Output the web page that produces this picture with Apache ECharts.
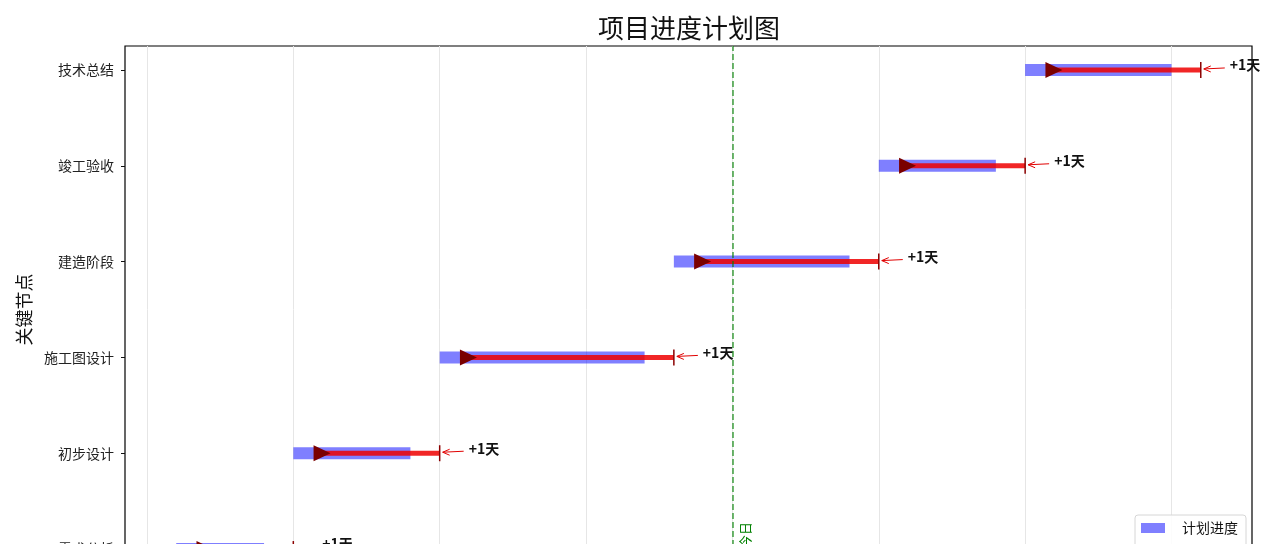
<!DOCTYPE html>
<html><head><meta charset="utf-8">
<script src="https://cdn.jsdelivr.net/npm/echarts@6/dist/echarts.min.js"></script>
<style>html,body{margin:0;padding:0;overflow:hidden;background:#fff}#c{width:1280px;height:640px}</style>
</head><body><div id="c"></div>
<script>
// Key milestones (bottom to top)
const tasks = ['需求分析', '初步设计', '施工图设计', '建造阶段', '竣工验收', '技术总结'];
// Days from project start
const planStart = [1, 5, 10, 18, 25, 30];
const planEnd = [4, 9, 17, 24, 29, 35];
const actualStart = [2, 6, 11, 19, 26, 31];
const actualEnd = [5, 10, 18, 25, 30, 36];
const todayDay = 20;
const xTickDays = [0, 5, 10, 15, 20, 25, 30, 35];
const xTickLabels = ['01-01', '01-06', '01-11', '01-16', '01-21', '01-26', '01-31', '02-05'];
const yTickPos = [0, 1, 2, 3, 4, 5];

const FONT = '"Noto Sans CJK SC", "Noto Sans", sans-serif';
const chart = echarts.init(document.getElementById('c'), null, { renderer: 'canvas' });

const planData = tasks.map((t, i) => [planStart[i], planEnd[i], i]);
const actualData = tasks.map((t, i) => [actualStart[i], actualEnd[i], i]);
const noteData = tasks.map((t, i) => [actualEnd[i], i, actualEnd[i] - planEnd[i]]);

chart.setOption({
  animation: false,
  textStyle: { fontFamily: FONT },
  title: {
    text: '项目进度计划图', left: 684, top: 10, textAlign: 'center',
    textStyle: { fontFamily: FONT, fontSize: 26, fontWeight: 'normal', color: '#111' }
  },
  grid: { left: 125, right: 28, top: 46, bottom: 67, show: true, borderColor: '#000', borderWidth: 1.2, backgroundColor: 'transparent' },
  legend: {
    right: 34, top: 515, orient: 'vertical', itemWidth: 24, itemHeight: 10, itemGap: 9,
    padding: [6, 8, 6, 6], backgroundColor: 'rgba(255,255,255,0.85)', borderColor: '#d6d6d6', borderWidth: 1, borderRadius: 3,
    textStyle: { fontFamily: FONT, fontSize: 14, color: '#111', padding: [0, 0, 0, 12] },
    data: [
      { name: '计划进度', icon: 'rect' },
      { name: '实际进度', icon: 'path://M0,4 L24,4 L24,6 L0,6 Z' }
    ]
  },
  xAxis: {
    type: 'value', min: -0.75, max: 37.75,
    axisLine: { show: false, onZero: false },
    axisTick: { show: true, length: 4, customValues: xTickDays, lineStyle: { color: '#111' } },
    axisLabel: { customValues: xTickDays, formatter: v => xTickLabels[xTickDays.indexOf(v)] || '', color: '#222', fontSize: 12, fontFamily: FONT },
    splitLine: { show: true, lineStyle: { color: '#e6e6e6', width: 1 } }
  },
  yAxis: {
    type: 'value', min: -0.25, max: 5.25,
    name: '关键节点', nameLocation: 'middle', nameGap: 88, nameRotate: 90,
    nameTextStyle: { fontFamily: FONT, fontSize: 18, color: '#111' },
    axisLine: { show: false, onZero: false },
    axisTick: { show: true, length: 4, customValues: yTickPos, lineStyle: { color: '#111' } },
    axisLabel: { customValues: yTickPos, formatter: v => tasks[Math.round(v)], color: '#222', fontSize: 14, margin: 11, fontFamily: FONT },
    splitLine: { show: false }
  },
  series: [
    {
      name: '计划进度', type: 'custom', data: planData, encode: { x: [0, 1], y: 2 },
      itemStyle: { color: 'rgba(0,0,255,0.5)' },
      renderItem: (params, api) => {
        const y = api.value(2);
        const p0 = api.coord([api.value(0), y]);
        const p1 = api.coord([api.value(1), y]);
        const h = api.size([0, 0.125])[1];
        return { type: 'rect', shape: { x: p0[0], y: p0[1] - h / 2, width: p1[0] - p0[0], height: h }, style: { fill: 'rgba(0,0,255,0.5)' } };
      },
      markLine: {
        silent: true, symbol: 'none',
        data: [{ xAxis: todayDay }],
        lineStyle: { color: 'rgba(0,128,0,0.7)', type: [6, 3], width: 1.6 },
        label: { formatter: '今日', position: 'insideStartBottom', color: 'green', fontSize: 13, fontFamily: FONT, distance: [25, 6] }
      }
    },
    {
      name: '实际进度', type: 'custom', data: actualData, encode: { x: [0, 1], y: 2 },
      itemStyle: { color: 'rgba(255,0,0,0.85)' },
      renderItem: (params, api) => {
        const y = api.value(2);
        const p0 = api.coord([api.value(0), y]);
        const p1 = api.coord([api.value(1), y]);
        return {
          type: 'group', children: [
            { type: 'line', shape: { x1: p0[0], y1: p0[1], x2: p1[0], y2: p1[1] }, style: { stroke: 'rgba(238,0,0,0.85)', lineWidth: 5 } },
            { type: 'polygon', shape: { points: [[p0[0] - 9, p0[1] - 8], [p0[0] + 8, p0[1]], [p0[0] - 9, p0[1] + 8]] }, style: { fill: '#7a0000' } },
            { type: 'line', shape: { x1: p1[0], y1: p1[1] - 8, x2: p1[0], y2: p1[1] + 8 }, style: { stroke: '#8b0000', lineWidth: 1.5 } }
          ]
        };
      }
    },
    {
      name: '延期标注', type: 'custom', data: noteData, encode: { x: 0, y: 1 },
      renderItem: (params, api) => {
        const p = api.coord([api.value(0), api.value(1)]);
        const d = api.value(2);
        const ax = p[0] + 3, ay = p[1] - 1;
        return {
          type: 'group', children: [
            { type: 'line', shape: { x1: p[0] + 24, y1: ay - 1, x2: ax, y2: ay }, style: { stroke: '#e00000', lineWidth: 1 } },
            { type: 'polyline', shape: { points: [[ax + 7, ay - 3], [ax, ay], [ax + 7, ay + 3]] }, style: { stroke: '#e00000', lineWidth: 1, fill: null } },
            { type: 'text', x: p[0] + 29, y: p[1] - 5, style: { text: (d > 0 ? '+' : '') + d + '天', fill: '#111', font: 'bold 14px ' + FONT, textVerticalAlign: 'middle', textAlign: 'left' } }
          ]
        };
      }
    }
  ]
});
</script></body></html>
